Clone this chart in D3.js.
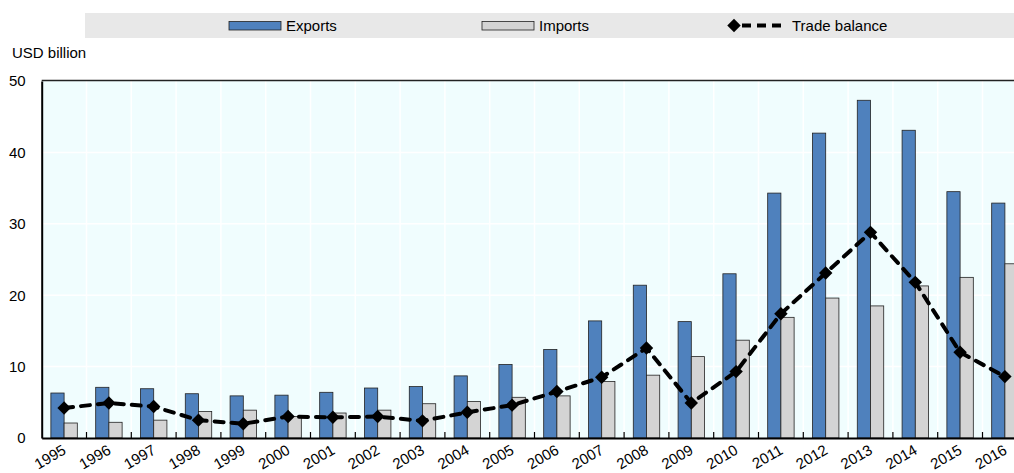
<!DOCTYPE html>
<html>
<head>
<meta charset="utf-8">
<script src="https://cdn.jsdelivr.net/npm/d3@7"></script>
<style>
  body { margin: 0; background: #fff; }
  svg { display: block; font-family: "Liberation Sans", Arial, sans-serif; }
</style>
</head>
<body>
<svg id="drawing_region"></svg>
<script>
const years = ["1995","1996","1997","1998","1999","2000","2001","2002","2003","2004","2005",
               "2006","2007","2008","2009","2010","2011","2012","2013","2014","2015","2016"];
const exports_usd = [6.3,7.1,6.9,6.2,5.9,6.0,6.4,7.0,7.2,8.7,10.3,12.4,16.4,21.4,16.3,23.0,34.3,42.7,47.3,43.1,34.5,32.9];
const imports_usd = [2.1,2.2,2.5,3.7,3.9,3.0,3.5,3.9,4.8,5.1,5.7,5.9,7.9,8.8,11.4,13.7,16.9,19.6,18.5,21.3,22.5,24.4];
const balance_usd = [4.2,4.9,4.4,2.5,2.0,3.0,2.9,3.0,2.4,3.6,4.6,6.5,8.5,12.6,4.9,9.3,17.4,23.1,28.8,21.8,12.0,8.6];
const yticks = [0,10,20,30,40,50];

const data = years.map( (y,i) => ({ year: y, exp: exports_usd[i], imp: imports_usd[i], bal: balance_usd[i] }) );

var config = {
    width: 1014,
    height: 473,
    left: 41.7,
    right: 1027.3,   // plot runs past the picture edge
    top: 81,
    bottom: 438
};

const svg = d3.select('#drawing_region')
    .attr('width', config.width)
    .attr('height', config.height);

const xscale = d3.scaleBand()
    .domain( years )
    .range( [config.left, config.right] )
    .padding(0);

const yscale = d3.scaleLinear()
    .domain( [0,50] )
    .range( [config.bottom, config.top] );

const bw = xscale.bandwidth();
const barw = bw * 0.295;

// plot background
svg.append('rect')
    .attr('x', config.left).attr('y', config.top)
    .attr('width', config.right - config.left)
    .attr('height', config.bottom - config.top)
    .attr('fill', '#f0fdfe');

// white grid
svg.append('g')
    .selectAll('line')
    .data( yticks.slice(1,-1) )
    .join('line')
    .attr('x1', config.left).attr('x2', config.right)
    .attr('y1', d => yscale(d)).attr('y2', d => yscale(d))
    .attr('stroke', '#fff').attr('stroke-width', 1.5);

svg.append('g')
    .selectAll('line')
    .data( years.slice(1) )
    .join('line')
    .attr('x1', d => xscale(d)).attr('x2', d => xscale(d))
    .attr('y1', config.top).attr('y2', config.bottom)
    .attr('stroke', '#fff').attr('stroke-width', 1.5);

// top border
svg.append('line')
    .attr('x1', config.left).attr('x2', config.right)
    .attr('y1', config.top - 0.5).attr('y2', config.top - 0.5)
    .attr('stroke', '#222').attr('stroke-width', 1.5);

// bars
const chart = svg.append('g');
chart.selectAll('rect.exp')
    .data(data)
    .join('rect')
    .attr('class', 'exp')
    .attr('x', d => xscale(d.year) + bw/2 - barw)
    .attr('y', d => yscale(d.exp))
    .attr('width', barw)
    .attr('height', d => config.bottom - yscale(d.exp))
    .attr('fill', '#4f81bd')
    .attr('stroke', '#222').attr('stroke-width', 0.8);

chart.selectAll('rect.imp')
    .data(data)
    .join('rect')
    .attr('class', 'imp')
    .attr('x', d => xscale(d.year) + bw/2)
    .attr('y', d => yscale(d.imp))
    .attr('width', barw)
    .attr('height', d => config.bottom - yscale(d.imp))
    .attr('fill', '#d4d4d4')
    .attr('stroke', '#222').attr('stroke-width', 0.8);

// axes
const xaxis = d3.axisBottom( xscale ).tickSize(0).tickFormat('');
svg.append('g')
    .attr('transform', `translate(0, ${config.bottom})`)
    .call( xaxis )
    .call( g => g.select('.domain').attr('stroke', '#000').attr('stroke-width', 2) );

// inner ticks at category boundaries
svg.append('g')
    .selectAll('line')
    .data( years.slice(1) )
    .join('line')
    .attr('x1', d => xscale(d)).attr('x2', d => xscale(d))
    .attr('y1', config.bottom - 6).attr('y2', config.bottom)
    .attr('stroke', '#000').attr('stroke-width', 1.2);

svg.append('g')
    .selectAll('text')
    .data( years )
    .join('text')
    .attr('transform', d => `translate(${xscale(d) + bw/2 + 3}, ${config.bottom + 15}) rotate(-30)`)
    .attr('text-anchor', 'end')
    .attr('font-size', '15px')
    .attr('fill', '#000')
    .text( d => d );

const yaxis = d3.axisLeft( yscale ).tickValues( yticks ).tickSize(0).tickPadding(16);
svg.append('g')
    .attr('transform', `translate(${config.left}, 0)`)
    .call( yaxis )
    .call( g => g.select('.domain').attr('stroke', '#000').attr('stroke-width', 2) )
    .call( g => g.selectAll('text').attr('font-size', '15px').attr('fill', '#000')
        .attr('font-family', '"Liberation Sans", Arial, sans-serif') );

svg.append('text')
    .attr('x', 12).attr('y', 58)
    .attr('font-size', '15px')
    .text('USD billion');

// trade balance line
const line = d3.line()
    .x( d => xscale(d.year) + bw/2 )
    .y( d => yscale(d.bal) );

svg.append('path')
    .datum(data)
    .attr('d', line)
    .attr('fill', 'none')
    .attr('stroke', '#000')
    .attr('stroke-width', 4)
    .attr('stroke-linecap', 'round')
    .attr('stroke-dasharray', '9,8');

const diamond = d3.symbol().type(d3.symbolDiamond2).size(115);
svg.append('g')
    .selectAll('path')
    .data(data)
    .join('path')
    .attr('d', diamond)
    .attr('transform', d => `translate(${xscale(d.year) + bw/2}, ${yscale(d.bal)})`)
    .attr('fill', '#000');

// legend
const legend = svg.append('g');
legend.append('rect')
    .attr('x', 85).attr('y', 13)
    .attr('width', config.width - 85).attr('height', 25)
    .attr('fill', '#e8e8e8');

legend.append('rect')
    .attr('x', 229).attr('y', 21.5).attr('width', 52).attr('height', 8.5)
    .attr('fill', '#4f81bd').attr('stroke', '#222').attr('stroke-width', 0.8);
legend.append('text')
    .attr('x', 286).attr('y', 31).attr('font-size', '15px').text('Exports');

legend.append('rect')
    .attr('x', 482).attr('y', 21.5).attr('width', 52).attr('height', 8.5)
    .attr('fill', '#d4d4d4').attr('stroke', '#222').attr('stroke-width', 0.8);
legend.append('text')
    .attr('x', 539).attr('y', 31).attr('font-size', '15px').text('Imports');

legend.append('line')
    .attr('x1', 742).attr('x2', 781).attr('y1', 25.5).attr('y2', 25.5)
    .attr('stroke', '#000').attr('stroke-width', 4)
    .attr('stroke-dasharray', '9,6');
legend.append('path')
    .attr('d', diamond)
    .attr('transform', 'translate(734, 25.5)')
    .attr('fill', '#000');
legend.append('text')
    .attr('x', 792).attr('y', 31).attr('font-size', '15px').text('Trade balance');
</script>
</body>
</html>
